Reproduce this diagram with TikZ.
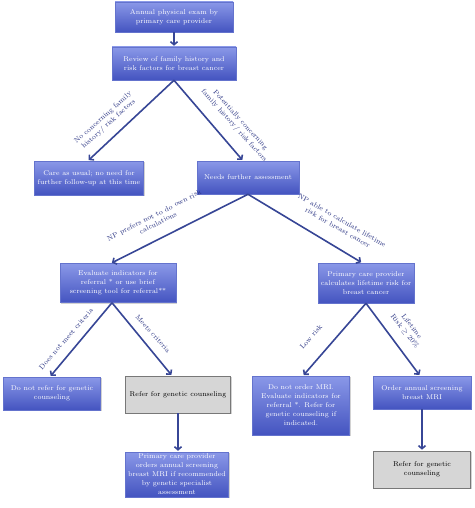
\documentclass[tikz,border=0pt]{standalone}
\usetikzlibrary{arrows.meta,shadows}
\definecolor{boxtop}{RGB}{138,152,232}
\definecolor{boxbot}{RGB}{68,84,192}
\definecolor{boxedge}{RGB}{100,115,205}
\definecolor{linkblue}{RGB}{55,70,150}
\definecolor{labelblue}{RGB}{40,50,130}
\definecolor{greyfill}{RGB}{214,214,214}
\definecolor{greyedge}{RGB}{120,120,120}
\tikzset{
  bluebox/.style={draw=boxedge, line width=0.5pt, top color=boxtop, bottom color=boxbot,
    text=white, font=\fontsize{7}{9}\selectfont, align=center, inner sep=1pt,
    drop shadow={opacity=0.35, shadow xshift=1pt, shadow yshift=-1.2pt}},
  greybox/.style={draw=greyedge, line width=0.6pt, fill=greyfill,
    text=black, font=\fontsize{7}{9}\selectfont, align=center, inner sep=1pt,
    drop shadow={opacity=0.35, shadow xshift=1pt, shadow yshift=-1.2pt}},
  link/.style={draw=linkblue, line width=1.6pt, -{Straight Barb[length=3pt,width=7pt]}, shorten >=1pt},
  lbl/.style={text=labelblue, font=\fontsize{7}{8.5}\selectfont, align=center, inner sep=0pt}
}
\begin{document}
\begin{tikzpicture}[x=1pt,y=-1pt]
\fill[white] (0,0) rectangle (474,508);
\useasboundingbox (0,0) rectangle (474,508);
% boxes
\node[bluebox, minimum width=118, minimum height=30] (b1) at (174,17) {Annual physical exam by\\ primary care provider};
\node[bluebox, minimum width=124, minimum height=33] (b2) at (174,63.5) {Review of family history and\\ risk factors for breast cancer};
\node[bluebox, minimum width=109, minimum height=34] (b3) at (89,178) {Care as usual; no need for\\ further follow-up at this time};
\node[bluebox, minimum width=102, minimum height=33] (b4) at (248,177.5) {Needs further assessment};
\node[bluebox, minimum width=116, minimum height=39] (b5) at (118,283) {Evaluate indicators for\\ referral * or use brief\\ screening tool for referral**};
\node[bluebox, minimum width=96, minimum height=40] (b6) at (366,283) {Primary care provider\\ calculates lifetime risk for\\ breast cancer};
\node[bluebox, minimum width=97, minimum height=33] (b7) at (52,393.5) {Do not refer for genetic\\ counseling};
\node[greybox, minimum width=105, minimum height=37] (b8) at (178,394.5) {Refer for genetic counseling};
\node[bluebox, minimum width=103, minimum height=45] (b9) at (177,474.5) {Primary care provider\\ orders annual screening\\ breast MRI if recommended\\ by genetic specialist\\ assessment};
\node[bluebox, minimum width=97, minimum height=59] (b10) at (301,405.5) {Do not order MRI.\\ Evaluate indicators for\\ referral *. Refer for\\ genetic counseling if\\ indicated.};
\node[bluebox, minimum width=98, minimum height=33] (b11) at (422,392.5) {Order annual screening\\ breast MRI};
\node[greybox, minimum width=97, minimum height=37] (b12) at (422,469.5) {Refer for genetic\\ counseling};
% connectors
\draw[link] (b1.south) -- (b1.south |- b2.north);
\draw[link] (b2.south) -- ([xshift=-1pt]b3.north);
\draw[link] (b2.south) -- ([xshift=-5pt]b4.north);
\draw[link] (b4.south) -- ([xshift=-7pt]b5.north);
\draw[link] (b4.south) -- ([xshift=-4pt]b6.north);
\draw[link] ([xshift=-6pt]b5.south) -- ([xshift=-2pt]b7.north);
\draw[link] ([xshift=-6pt]b5.south) -- ([xshift=-6pt]b8.north);
\draw[link] (b6.south) -- ([xshift=2pt]b10.north);
\draw[link] (b6.south) -- ([xshift=-2pt]b11.north);
\draw[link] (b8.south) -- (b8.south |- b9.north);
\draw[link] (b11.south) -- (b11.south |- b12.north);
% labels
\node[lbl, rotate=42] (la) at (106,121) {No concerning family\\ history/ risk factors};
\node[lbl, rotate=-48] (lb) at (237,123) {Potentially concerning\\ family history/ risk factors};
\node[lbl, rotate=27] (lc) at (156,219) {NP prefers not to do own risk\\ calculations};
\node[lbl, rotate=-30] (ld) at (340,224) {NP able to calculate lifetime\\ risk for breast cancer};
\node[lbl, rotate=49] (le) at (66,339) {Does not meet criteria};
\node[lbl, rotate=-48] (lf) at (153,334) {Meets criteria};
\node[lbl, rotate=48] (lg) at (311,337) {Low risk};
\node[lbl, rotate=-52] (lh) at (408,329) {Lifetime\\ Risk $\geq$ 20\%};
\end{tikzpicture}
\end{document}
